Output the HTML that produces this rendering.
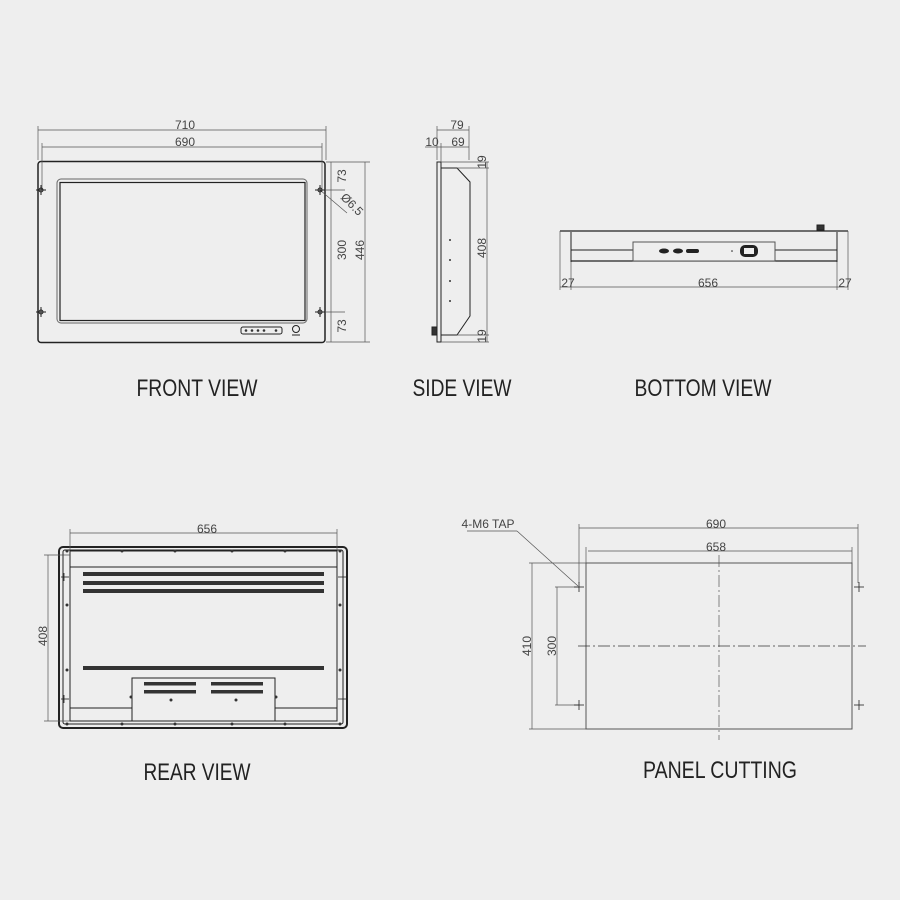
<!DOCTYPE html>
<html><head><style>
html,body{margin:0;padding:0;background:#eeeeee;}
svg{display:block;}
text{font-family:"Liberation Sans",sans-serif;fill:#222;}
.d{font-size:12px;fill:#444;}
.l{font-size:24px;}
</style></head><body>
<svg width="900" height="900" viewBox="0 0 900 900" xmlns="http://www.w3.org/2000/svg">
<rect width="900" height="900" fill="#eeeeee"/>
<g fill="none" stroke="#222" stroke-width="1">
<!-- FRONT VIEW -->
<rect x="38" y="161.5" width="287" height="181" rx="3" stroke-width="1.5"/>
<rect x="57" y="179" width="250" height="144" rx="4" stroke="#666"/>
<rect x="60" y="182.5" width="245" height="138" stroke-width="1.2"/>
<g stroke="#555" stroke-width="0.7">
<line x1="38" y1="126" x2="38" y2="160"/><line x1="326" y1="126" x2="326" y2="160"/>
<line x1="38" y1="130" x2="326" y2="130"/>
<line x1="42" y1="143" x2="42" y2="190"/><line x1="322" y1="143" x2="322" y2="190"/>
<line x1="42" y1="147" x2="322" y2="147"/>
<line x1="326" y1="162" x2="370" y2="162"/><line x1="326" y1="342" x2="370" y2="342"/>
<line x1="322" y1="190" x2="345" y2="190"/><line x1="322" y1="312" x2="345" y2="312"/>
<line x1="331" y1="162" x2="331" y2="342"/>
<line x1="365" y1="162" x2="365" y2="342"/>
<line x1="320" y1="190" x2="347" y2="213"/>
</g>
<g stroke-width="1">
<circle cx="41" cy="190" r="2"/><line x1="36" y1="190" x2="46" y2="190"/><line x1="41" y1="185" x2="41" y2="195"/>
<circle cx="41" cy="312" r="2"/><line x1="36" y1="312" x2="46" y2="312"/><line x1="41" y1="307" x2="41" y2="317"/>
<circle cx="320" cy="190" r="2"/><line x1="315" y1="190" x2="325" y2="190"/><line x1="320" y1="185" x2="320" y2="195"/>
<circle cx="320" cy="312" r="2"/><line x1="315" y1="312" x2="325" y2="312"/><line x1="320" y1="307" x2="320" y2="317"/>
</g>
<rect x="241" y="327" width="41" height="7" rx="2"/>
<g fill="#333" stroke="none"><circle cx="246" cy="330.5" r="1.3"/><circle cx="252" cy="330.5" r="1.3"/><circle cx="258" cy="330.5" r="1.3"/><circle cx="264" cy="330.5" r="1.3"/><circle cx="276" cy="330.5" r="1.3"/></g>
<circle cx="296" cy="329" r="3.5"/><line x1="292" y1="335" x2="300" y2="335"/>
<!-- SIDE VIEW -->
<rect x="437" y="162" width="4" height="180"/>
<path d="M441 168 H457 L470 182 V316 L457 335 H441"/>
<g stroke="#555" stroke-width="0.7">
<line x1="437" y1="126" x2="437" y2="160"/><line x1="469" y1="126" x2="469" y2="160"/>
<line x1="437" y1="130" x2="469" y2="130"/>
<line x1="425" y1="147" x2="469" y2="147"/><line x1="441" y1="143" x2="441" y2="162"/>
<line x1="441" y1="162" x2="489" y2="162"/><line x1="457" y1="168" x2="489" y2="168"/>
<line x1="457" y1="335" x2="489" y2="335"/><line x1="441" y1="342" x2="489" y2="342"/>
<line x1="487" y1="162" x2="487" y2="342"/>
</g>
<rect x="432" y="327" width="5" height="8" fill="#333"/>
<g fill="#333" stroke="none"><circle cx="450" cy="240" r="1"/><circle cx="450" cy="260" r="1"/><circle cx="450" cy="281" r="1"/><circle cx="450" cy="301" r="1"/></g>
<!-- BOTTOM VIEW -->
<line x1="560" y1="231" x2="848" y2="231" stroke-width="1.2"/>
<line x1="571" y1="250" x2="837" y2="250"/>
<line x1="571" y1="261" x2="837" y2="261" stroke-width="1.2"/>
<line x1="571" y1="232" x2="571" y2="262"/><line x1="837" y1="232" x2="837" y2="262"/>
<rect x="633" y="242" width="142" height="19" fill="#eeeeee" stroke="#555"/>
<rect x="817" y="225" width="7" height="5" fill="#333"/>
<g fill="#222" stroke="none">
<ellipse cx="664" cy="251" rx="5" ry="2.5"/><ellipse cx="678" cy="251" rx="5" ry="2.5"/><rect x="686" y="249" width="13" height="4" rx="2"/>
<circle cx="732" cy="251" r="0.8"/>
<rect x="740" y="245" width="18" height="12" rx="5"/>
</g>
<rect x="744" y="248" width="10" height="6" fill="#eee" stroke="none"/>
<g stroke="#555" stroke-width="0.7">
<line x1="560" y1="231" x2="560" y2="290"/><line x1="848" y1="231" x2="848" y2="290"/>
<line x1="571" y1="262" x2="571" y2="290"/><line x1="837" y1="262" x2="837" y2="290"/>
<line x1="560" y1="287" x2="848" y2="287"/>
</g>
<!-- REAR VIEW -->
<rect x="59" y="547" width="288" height="181" rx="4" stroke-width="2"/>
<rect x="63" y="550" width="280" height="174" rx="2"/>
<rect x="70" y="551" width="267" height="170"/>
<line x1="70" y1="567" x2="337" y2="567"/>
<line x1="70" y1="708" x2="132" y2="708"/><line x1="275" y1="708" x2="337" y2="708"/>
<rect x="132" y="678" width="143" height="43"/>
<g fill="#333" stroke="none">
<rect x="83" y="572" width="241" height="4"/><rect x="83" y="581" width="241" height="4"/><rect x="83" y="589" width="241" height="4"/>
<rect x="83" y="666" width="241" height="4"/>
<rect x="144" y="682" width="52" height="3.5"/><rect x="144" y="690" width="52" height="3.5"/>
<rect x="211" y="682" width="52" height="3.5"/><rect x="211" y="690" width="52" height="3.5"/>
<circle cx="67" cy="551" r="1.5"/><circle cx="122" cy="551" r="1.5"/><circle cx="175" cy="551" r="1.5"/><circle cx="232" cy="551" r="1.5"/><circle cx="285" cy="551" r="1.5"/><circle cx="340" cy="551" r="1.5"/>
<circle cx="67" cy="724" r="1.5"/><circle cx="122" cy="724" r="1.5"/><circle cx="175" cy="724" r="1.5"/><circle cx="232" cy="724" r="1.5"/><circle cx="285" cy="724" r="1.5"/><circle cx="340" cy="724" r="1.5"/>
<circle cx="67" cy="605" r="1.5"/><circle cx="67" cy="670" r="1.5"/><circle cx="340" cy="605" r="1.5"/><circle cx="340" cy="670" r="1.5"/>
<circle cx="131" cy="697" r="1.5"/><circle cx="171" cy="700" r="1.5"/><circle cx="236" cy="700" r="1.5"/><circle cx="276" cy="697" r="1.5"/>
</g>
<g stroke-width="0.8">
<line x1="61" y1="577" x2="69" y2="577"/><line x1="64" y1="573" x2="64" y2="581"/>
<line x1="61" y1="699" x2="69" y2="699"/><line x1="64" y1="695" x2="64" y2="703"/>
<line x1="338" y1="577" x2="346" y2="577"/><line x1="343" y1="573" x2="343" y2="581"/>
<line x1="338" y1="699" x2="346" y2="699"/><line x1="343" y1="695" x2="343" y2="703"/>
</g>
<g stroke="#555" stroke-width="0.7">
<line x1="70" y1="529" x2="70" y2="550"/><line x1="337" y1="529" x2="337" y2="550"/>
<line x1="70" y1="533" x2="337" y2="533"/>
<line x1="44" y1="555" x2="70" y2="555"/><line x1="44" y1="721" x2="70" y2="721"/>
<line x1="48" y1="555" x2="48" y2="721"/>
</g>
<!-- PANEL CUTTING -->
<rect x="586" y="563" width="266" height="166" stroke="#555"/>
<g stroke="#555" stroke-width="0.7">
<line x1="529" y1="563" x2="586" y2="563"/><line x1="529" y1="729" x2="586" y2="729"/>
<line x1="532" y1="563" x2="532" y2="729"/>
<line x1="555" y1="587" x2="579" y2="587"/><line x1="555" y1="705" x2="579" y2="705"/>
<line x1="557" y1="587" x2="557" y2="705"/>
<line x1="579" y1="524" x2="579" y2="583"/><line x1="858" y1="524" x2="858" y2="583"/>
<line x1="579" y1="528" x2="858" y2="528"/>
<line x1="586" y1="547" x2="586" y2="563"/><line x1="852" y1="547" x2="852" y2="563"/>
<line x1="588" y1="551" x2="852" y2="551"/>
<line x1="719" y1="555" x2="719" y2="740" stroke-dasharray="12,3,2,3"/>
<line x1="578" y1="646" x2="866" y2="646" stroke-dasharray="12,3,2,3" stroke="#333"/>
<line x1="467" y1="531" x2="517" y2="531"/><line x1="517" y1="531" x2="578" y2="586"/>
</g>
<g stroke-width="0.8">
<line x1="574" y1="587" x2="584" y2="587"/><line x1="579" y1="582" x2="579" y2="592"/>
<line x1="574" y1="705" x2="584" y2="705"/><line x1="579" y1="700" x2="579" y2="710"/>
<line x1="854" y1="587" x2="864" y2="587"/><line x1="859" y1="582" x2="859" y2="592"/>
<line x1="854" y1="705" x2="864" y2="705"/><line x1="859" y1="700" x2="859" y2="710"/>
</g>
</g>
<!-- dims text -->
<text class="d" x="185" y="129" text-anchor="middle">710</text>
<text class="d" x="185" y="146" text-anchor="middle">690</text>
<text class="d" transform="translate(346,176) rotate(-90)" text-anchor="middle">73</text>
<text class="d" transform="translate(346,250) rotate(-90)" text-anchor="middle">300</text>
<text class="d" transform="translate(364,250) rotate(-90)" text-anchor="middle">446</text>
<text class="d" transform="translate(346,326) rotate(-90)" text-anchor="middle">73</text>
<text class="d" transform="translate(340,198) rotate(45)">Ø6.5</text>
<text class="d" x="457" y="129" text-anchor="middle">79</text>
<text class="d" x="432" y="146" text-anchor="middle">10</text>
<text class="d" x="458" y="146" text-anchor="middle">69</text>
<text class="d" transform="translate(486,162) rotate(-90)" text-anchor="middle">19</text>
<text class="d" transform="translate(486,248) rotate(-90)" text-anchor="middle">408</text>
<text class="d" transform="translate(486,336) rotate(-90)" text-anchor="middle">19</text>
<text class="d" x="568" y="287" text-anchor="middle">27</text>
<text class="d" x="708" y="287" text-anchor="middle">656</text>
<text class="d" x="845" y="287" text-anchor="middle">27</text>
<text class="d" x="207" y="533" text-anchor="middle">656</text>
<text class="d" transform="translate(47,636) rotate(-90)" text-anchor="middle">408</text>
<text class="d" x="488" y="528" text-anchor="middle">4-M6 TAP</text>
<text class="d" x="716" y="528" text-anchor="middle">690</text>
<text class="d" x="716" y="551" text-anchor="middle">658</text>
<text class="d" transform="translate(531,646) rotate(-90)" text-anchor="middle">410</text>
<text class="d" transform="translate(556,646) rotate(-90)" text-anchor="middle">300</text>
<!-- labels -->
<text class="l" x="197" y="396" text-anchor="middle" textLength="121" lengthAdjust="spacingAndGlyphs">FRONT VIEW</text>
<text class="l" x="462" y="396" text-anchor="middle" textLength="99" lengthAdjust="spacingAndGlyphs">SIDE VIEW</text>
<text class="l" x="703" y="396" text-anchor="middle" textLength="137" lengthAdjust="spacingAndGlyphs">BOTTOM VIEW</text>
<text class="l" x="197" y="780" text-anchor="middle" textLength="107" lengthAdjust="spacingAndGlyphs">REAR VIEW</text>
<text class="l" x="720" y="778" text-anchor="middle" textLength="154" lengthAdjust="spacingAndGlyphs">PANEL CUTTING</text>
</svg>
</body></html>
